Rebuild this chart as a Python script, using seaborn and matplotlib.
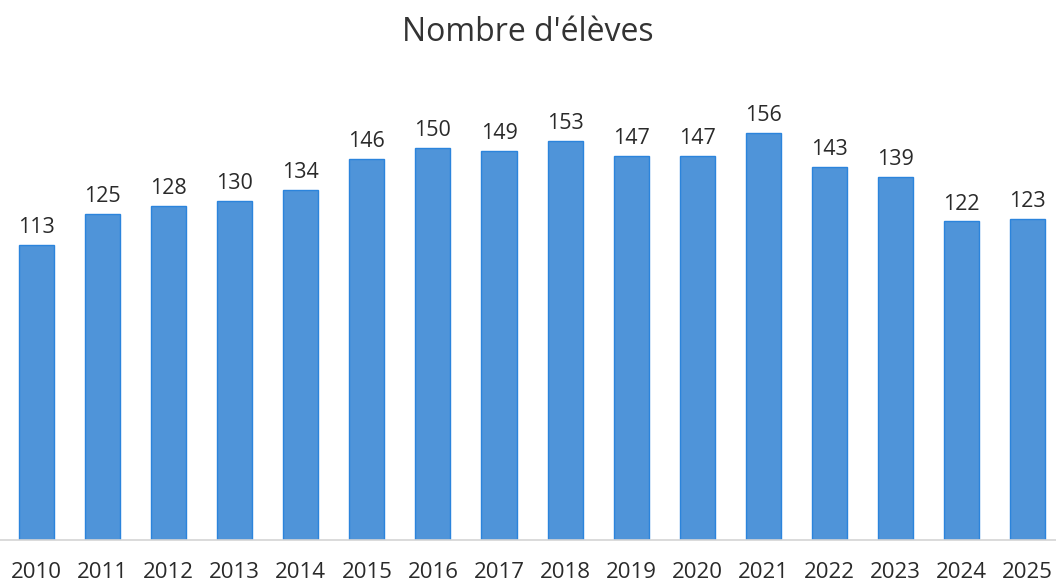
import matplotlib
matplotlib.use("Agg")
import matplotlib.pyplot as plt
import seaborn as sns
import pandas as pd

years = ["2010", "2011", "2012", "2013", "2014", "2015", "2016", "2017",
         "2018", "2019", "2020", "2021", "2022", "2023", "2024", "2025"]
students = [113, 125, 128, 130, 134, 146, 150, 149, 153, 147, 147, 156, 143, 139, 122, 123]
title = "Nombre d'élèves"

sns.set_theme(style="white")
plt.rcParams["font.family"] = ["Open Sans", "DejaVu Sans"]

df = pd.DataFrame({"year": years, "students": students})

fig = plt.figure(figsize=(10.56, 5.83), dpi=100)
ax = fig.add_axes([0.0, 0.0738, 1.0, 0.806])
sns.barplot(data=df, x="year", y="students", color="#4f94d9", width=0.53,
            edgecolor="#2b84dc", linewidth=1.0, saturation=1, ax=ax)

ax.set_xlim(-0.552, 15.43)
ax.set_ylim(0, 180)
for c in ax.containers:
    ax.bar_label(c, padding=5, fontsize=15.5, color="#2a2a2a")

ax.set_xlabel("")
ax.set_ylabel("")
ax.set_yticks([])
for s in ["top", "right", "left"]:
    ax.spines[s].set_visible(False)
ax.spines["bottom"].set_color("#d4d4d4")
ax.spines["bottom"].set_linewidth(1.2)
ax.tick_params(axis="x", length=0, pad=16, labelsize=16, labelcolor="#2a2a2a")

fig.text(0.5, 0.945, title, ha="center", va="center", fontsize=23, color="#333333")

fig.savefig("out.png", dpi=100)
